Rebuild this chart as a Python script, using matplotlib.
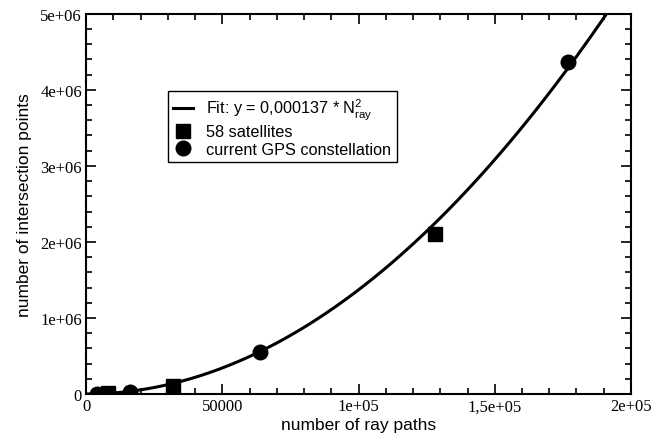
import numpy as np
import matplotlib
matplotlib.use('Agg')
import matplotlib.pyplot as plt
from matplotlib.ticker import MultipleLocator

plt.rcParams['mathtext.fontset'] = 'custom'
plt.rcParams['mathtext.rm'] = 'Liberation Sans'
plt.rcParams['mathtext.it'] = 'Liberation Sans'

# data
gps_x = [4000, 16000, 64000, 177000]
gps_y = [2000, 30000, 549000, 4370000]
sat58_x = [8000, 32000, 128000]
sat58_y = [9000, 110000, 2105000]
fit_coef = 0.000137

xticks = [0, 50000, 100000, 150000, 200000]
xticklabels = ['0', '50000', '1e+05', '1,5e+05', '2e+05']
yticks = [0, 1e6, 2e6, 3e6, 4e6, 5e6]
yticklabels = ['0', '1e+06', '2e+06', '3e+06', '4e+06', '5e+06']

fig = plt.figure(figsize=(6.67, 4.39), dpi=100)
ax = fig.add_axes([0.129, 0.1002, 0.817, 0.866])

xf = np.linspace(0, 200000, 400)
ax.plot(xf, fit_coef * xf**2, color='black', lw=2.2,
        label='Fit: y = 0,000137 * $\\mathrm{N_{ray}^{2}}$', zorder=2)
ax.plot(sat58_x, sat58_y, 's', color='black', ms=9.5, ls='none',
        label='58 satellites', zorder=3)
ax.plot(gps_x, gps_y, 'o', color='black', ms=10.5, ls='none',
        label='current GPS constellation', zorder=3)

ax.set_xlim(0, 200000)
ax.set_ylim(0, 5e6)
ax.set_xticks(xticks)
ax.set_xticklabels(xticklabels)
ax.set_yticks(yticks)
ax.set_yticklabels(yticklabels)
ax.xaxis.set_minor_locator(MultipleLocator(10000))
ax.yaxis.set_minor_locator(MultipleLocator(200000))

ax.tick_params(which='both', direction='in', top=True, right=True, width=1.2)
ax.tick_params(which='major', length=7, labelsize=12, pad=3)
ax.tick_params(which='minor', length=4)
for lab in ax.get_xticklabels() + ax.get_yticklabels():
    lab.set_family('Liberation Serif')
for s in ax.spines.values():
    s.set_linewidth(1.5)

ax.set_xlabel('number of ray paths', family='Liberation Sans', fontsize=12.5, labelpad=2)
ax.set_ylabel('number of intersection points', family='Liberation Sans', fontsize=12.5, labelpad=6)

leg = ax.legend(loc='upper left', bbox_to_anchor=(0.15, 0.797), borderaxespad=0,
                frameon=True, fancybox=False,
                edgecolor='black', framealpha=1, handlelength=1.2, handletextpad=0.8,
                borderpad=0.35, labelspacing=0.15,
                prop={'family': 'Liberation Sans', 'size': 11.7})
leg.get_frame().set_linewidth(1.0)

fig.savefig('out.png', dpi=100)
